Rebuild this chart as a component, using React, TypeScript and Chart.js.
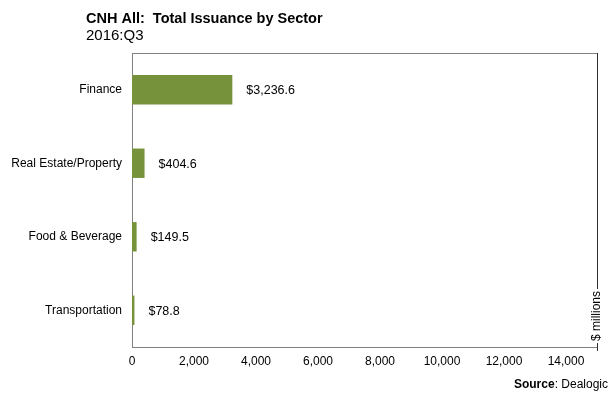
import React, { useEffect, useRef } from "react";
import { Chart, registerables } from "chart.js";

Chart.register(...registerables);

const categories = ["Finance", "Real Estate/Property", "Food & Beverage", "Transportation"];
const values = [3236.6, 404.6, 149.5, 78.8];
const xTicks = [0, 2000, 4000, 6000, 8000, 10000, 12000, 14000];
const titleText = "CNH All:  Total Issuance by Sector";
const subtitleText = "2016:Q3";
const unitText = "$ millions";

const FONT = "Arial, 'Liberation Sans', sans-serif";

const fmt = (v: number) =>
  v.toLocaleString("en-US", { minimumFractionDigits: 1, maximumFractionDigits: 1 });

const decorPlugin = {
  id: "decor",
  afterDatasetsDraw(chart: any) {
    const ctx = chart.ctx;
    const area = chart.chartArea;
    const meta = chart.getDatasetMeta(0);
    ctx.save();
    ctx.font = `12.5px ${FONT}`;
    ctx.fillStyle = "#000";
    ctx.textAlign = "left";
    ctx.textBaseline = "middle";
    meta.data.forEach((bar: any, i: number) => {
      ctx.fillText("$" + fmt(values[i]), bar.x + 14, bar.y + 1);
    });
    // top border line
    ctx.strokeStyle = "#808080";
    ctx.lineWidth = 1;
    ctx.beginPath();
    ctx.moveTo(area.left, area.top + 0.5);
    ctx.lineTo(area.right, area.top + 0.5);
    ctx.stroke();
    // right vertical line (unit axis)
    ctx.strokeStyle = "#303030";
    ctx.beginPath();
    ctx.moveTo(area.right + 0.5, area.top);
    ctx.lineTo(area.right + 0.5, area.bottom + 4);
    ctx.stroke();
    // $ millions on white background
    ctx.save();
    ctx.font = `12px ${FONT}`;
    const tw = ctx.measureText(unitText).width;
    const textBottom = area.bottom - 6;
    ctx.fillStyle = "#fff";
    ctx.fillRect(area.right - 6, textBottom - tw - 2, 13, tw + 4);
    ctx.translate(area.right, textBottom);
    ctx.rotate(-Math.PI / 2);
    ctx.textAlign = "left";
    ctx.textBaseline = "middle";
    ctx.fillStyle = "#000";
    ctx.fillText(unitText, 0, 0);
    ctx.restore();
    // titles
    ctx.textAlign = "left";
    ctx.textBaseline = "alphabetic";
    ctx.fillStyle = "#000";
    ctx.font = `bold 14.5px ${FONT}`;
    ctx.fillText(titleText, 86, 23);
    ctx.font = `15px ${FONT}`;
    ctx.fillText(subtitleText, 86, 40);
    // source
    ctx.textAlign = "right";
    ctx.font = `12px ${FONT}`;
    const rest = ": Dealogic";
    const restW = ctx.measureText(rest).width;
    ctx.fillText(rest, 608, 388);
    ctx.font = `bold 12px ${FONT}`;
    ctx.fillText("Source", 608 - restW, 388);
    ctx.restore();
  },
};

export default function App() {
  const ref = useRef<HTMLCanvasElement>(null);
  useEffect(() => {
    document.body.style.margin = "0";
    const chart = new Chart(ref.current!, {
      type: "bar",
      data: {
        labels: categories,
        datasets: [
          {
            data: values,
            backgroundColor: "#76933C",
            borderWidth: 0,
            barPercentage: 1,
            categoryPercentage: 0.4,
          },
        ],
      },
      options: {
        indexAxis: "y",
        animation: false,
        responsive: false,
        layout: { padding: { top: 53, right: 13, left: 0, bottom: 0 } },
        plugins: { legend: { display: false }, tooltip: { enabled: false }, title: { display: false } },
        scales: {
          x: {
            min: 0,
            max: 15000,
            afterBuildTicks: (scale: any) => {
              scale.ticks = xTicks.map((v) => ({ value: v }));
            },
            afterFit: (scale: any) => {
              scale.height = 52;
            },
            grid: { display: false, drawTicks: false },
            border: { display: true, color: "#808080", width: 1 },
            ticks: {
              color: "#000",
              font: { family: FONT, size: 12 },
              padding: 7,
              maxRotation: 0,
              callback: (v: any) => Number(v).toLocaleString("en-US"),
            },
          },
          y: {
            afterFit: (scale: any) => {
              scale.width = 132;
            },
            grid: { display: false, drawTicks: false },
            border: { display: true, color: "#808080", width: 1 },
            ticks: {
              color: "#000",
              font: { family: FONT, size: 12 },
              padding: 10,
            },
          },
        },
      },
      plugins: [decorPlugin],
    });
    return () => chart.destroy();
  }, []);
  return (
    <div style={{ position: "fixed", left: 0, top: 0, width: 610, height: 399 }}>
      <canvas ref={ref} width={610} height={399} style={{ width: 610, height: 399 }} />
    </div>
  );
}
